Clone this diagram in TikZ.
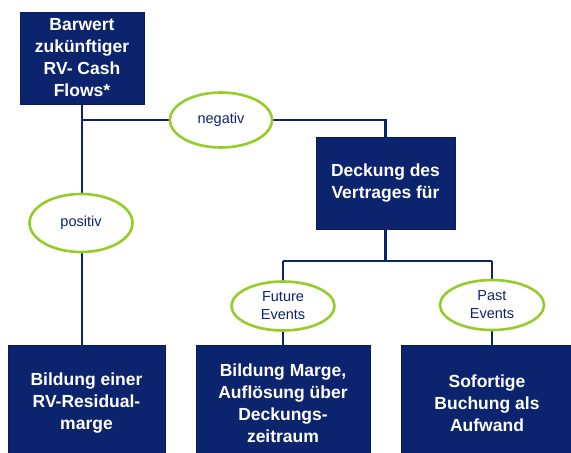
\documentclass[tikz,border=0pt]{standalone}
\usepackage{fontspec}
\setmainfont{Liberation Sans}
\usetikzlibrary{shapes.geometric,backgrounds}
\definecolor{navy}{RGB}{12,36,110}
\definecolor{lgreen}{RGB}{150,204,40}
\tikzset{
  box/.style={draw=navy!80!black, line width=0.8pt, fill=navy, text=white, align=center,
    font=\bfseries\fontsize{17.5}{22}\selectfont, inner sep=0pt},
  oval/.style={ellipse, draw=lgreen, line width=2.6pt, fill=white, text=navy, align=center,
    font=\fontsize{14.5}{18}\selectfont, inner sep=0pt},
  conn/.style={draw=navy, line width=2.6pt}
}
\begin{document}
\begin{tikzpicture}[x=1pt,y=-1pt]
\clip (0,0) rectangle (571,453);
\useasboundingbox (0,0) rectangle (571,453);
\node[box, minimum width=124pt, minimum height=92pt] (A) at (82,58) {Barwert\\zukünftiger\\RV- Cash\\Flows*};
\node[box, minimum width=139pt, minimum height=92pt] (D) at (385.5,183) {Deckung des\\Vertrages für};
\node[box, minimum width=157pt, minimum height=116pt] (B1) at (86.5,403) {Bildung einer\\RV-Residual-\\marge};
\node[box, minimum width=174pt, minimum height=116pt] (B2) at (283,403) {Bildung Marge,\\Auflösung über\\Deckungs-\\zeitraum};
\node[box, minimum width=172pt, minimum height=116pt] (B3) at (487,403) {Sofortige\\Buchung als\\Aufwand};
\node[oval, minimum width=102pt, minimum height=55pt] (N) at (221,120) {negativ};
\node[oval, minimum width=103pt, minimum height=58pt] (Po) at (81,223) {positiv};
\node[oval, minimum width=103pt, minimum height=49pt] (F) at (283,306) {Future\\Events};
\node[oval, minimum width=104pt, minimum height=50pt] (P) at (492,305) {Past\\Events};
\coordinate (J) at (385.5,261);
\begin{scope}[on background layer]
\draw[conn] (A.south) -- (A.south |- B1.north);
\draw[conn] (A.south |- N.center) -- (N.center) -| (D.north);
\draw[conn] (D.south) -- (J);
\draw[conn] (F.center |- J) -- (P.center |- J);
\draw[conn] (F.center |- J) -- (F.center |- B2.north);
\draw[conn] (P.center |- J) -- (P.center |- B3.north);
\end{scope}
\end{tikzpicture}
\end{document}
